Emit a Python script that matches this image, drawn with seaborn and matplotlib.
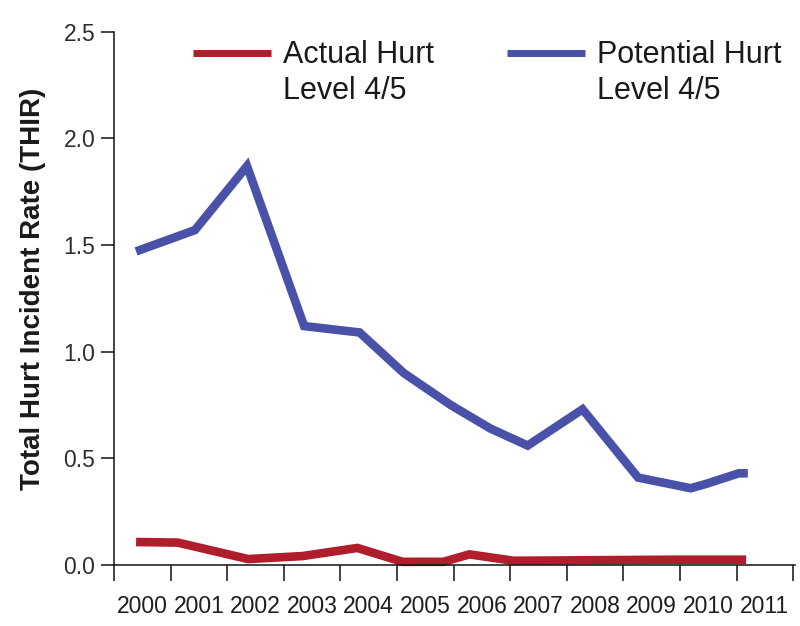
import matplotlib
matplotlib.use("Agg")
import matplotlib.pyplot as plt
import seaborn as sns
import pandas as pd
from matplotlib.lines import Line2D
from matplotlib.ticker import FixedLocator, FixedFormatter, NullFormatter

# ---- data ----
potential_t = [2000.39, 2001.43, 2002.35, 2003.36, 2004.34, 2005.12, 2005.95, 2006.65,
               2007.31, 2008.28, 2009.26, 2010.19, 2010.46, 2011.04, 2011.20]
potential_v = [1.47, 1.57, 1.87, 1.12, 1.09, 0.90, 0.75, 0.64,
               0.56, 0.73, 0.41, 0.36, 0.38, 0.43, 0.43]
actual_t = [2000.39, 2001.13, 2002.37, 2003.33, 2004.30, 2005.10, 2005.82, 2006.28,
            2007.06, 2009.84, 2011.17]
actual_v = [0.108, 0.105, 0.028, 0.042, 0.080, 0.015, 0.015, 0.050,
            0.020, 0.025, 0.025]
years = list(range(2000, 2012))
year_labels = [str(y) for y in years]
yticks = [0.0, 0.5, 1.0, 1.5, 2.0, 2.5]
ytick_labels = ["0.0", "0.5", "1.0", "1.5", "2.0", "2.5"]
series_labels = [("Actual Hurt", "Level 4/5"), ("Potential Hurt", "Level 4/5")]
ylabel = "Total Hurt Incident Rate (THIR)"

RED = "#B01D2B"
BLUE = "#4952A8"

sns.set_style("ticks")
plt.rcParams["font.family"] = ["Liberation Sans", "DejaVu Sans"]

fig = plt.figure(figsize=(8.0, 6.26), dpi=100)
ax = fig.add_axes([0.1425, 0.0974, 0.851, 0.852])

df_a = pd.DataFrame({"t": actual_t, "v": actual_v})
df_p = pd.DataFrame({"t": potential_t, "v": potential_v})
sns.lineplot(data=df_a, x="t", y="v", ax=ax, color=RED, lw=6.2, sort=False,
             estimator=None, solid_joinstyle="miter", solid_capstyle="butt", clip_on=False)
sns.lineplot(data=df_p, x="t", y="v", ax=ax, color=BLUE, lw=6.2, sort=False,
             estimator=None, solid_joinstyle="miter", solid_capstyle="butt", clip_on=False)

ax.set_xlim(years[0], years[-1] + 1.03)
ax.set_ylim(yticks[0], yticks[-1])

# x: ticks at year boundaries, labels centred in each year
ax.xaxis.set_major_locator(FixedLocator([y for y in years] + [years[-1] + 1]))
ax.xaxis.set_major_formatter(NullFormatter())
ax.xaxis.set_minor_locator(FixedLocator([y + 0.5 for y in years]))
ax.xaxis.set_minor_formatter(FixedFormatter(year_labels))
ax.tick_params(axis="x", which="major", length=11.5, width=1.1, direction="out", color="#111111")
ax.tick_params(axis="x", which="minor", length=0, pad=21.5, labelsize=16.5, labelcolor="#1e1e1e")

ax.set_yticks(yticks)
ax.set_yticklabels(ytick_labels)
ax.tick_params(axis="y", length=9.5, width=1.1, direction="out", pad=4, labelsize=16.5,
               labelcolor="#2e2e2e", color="#111111")

sns.despine(ax=ax)
for s in ("left", "bottom"):
    ax.spines[s].set_linewidth(1.1)
    ax.spines[s].set_color("#111111")

ax.set_xlabel("")
ax.set_ylabel(ylabel, fontsize=20, fontweight="bold", color="#1a1a1a")
ax.yaxis.set_label_coords(-0.1, 0.518)

handles = [Line2D([], [], color=RED, lw=5, solid_capstyle="butt"),
           Line2D([], [], color="none", lw=0),
           Line2D([], [], color=BLUE, lw=5, solid_capstyle="butt"),
           Line2D([], [], color="none", lw=0)]
labels = [series_labels[0][0], series_labels[0][1], series_labels[1][0], series_labels[1][1]]
leg = ax.legend(handles, labels, ncol=2, loc="upper left", bbox_to_anchor=(0.116, 0.984),
                frameon=False, fontsize=22, handlelength=2.55, handletextpad=0.39,
                columnspacing=2.41, labelspacing=0.18, borderpad=0, borderaxespad=0)
for t in leg.get_texts():
    t.set_color("#1a1a1a")

fig.savefig("out.png", dpi=100)
